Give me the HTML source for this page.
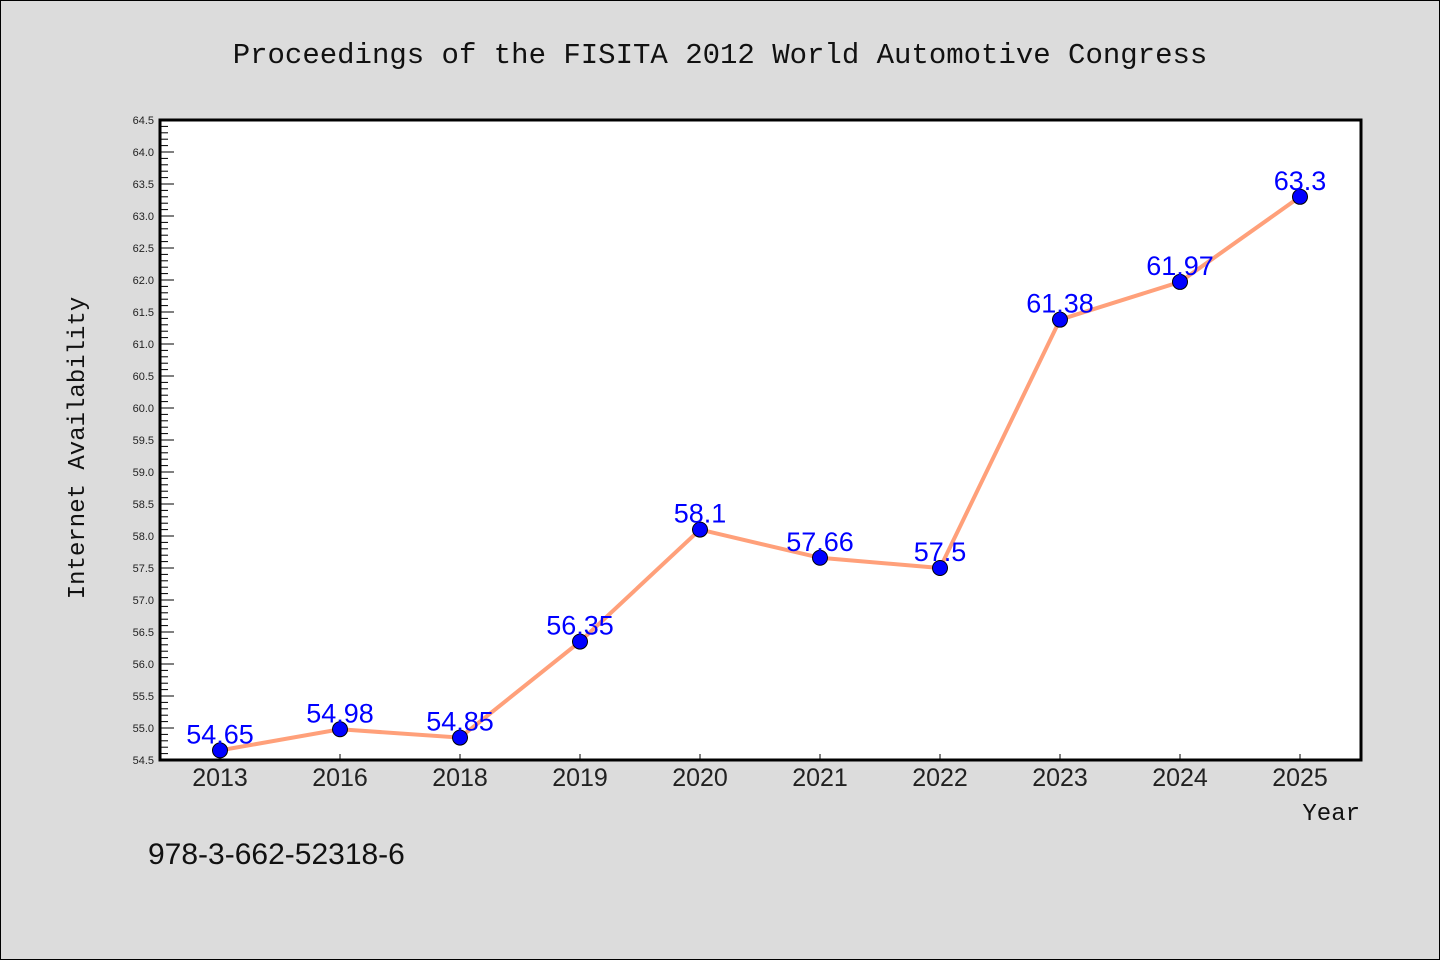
<!DOCTYPE html>
<html><head><meta charset="utf-8"><style>
html,body{margin:0;padding:0;background:#dcdcdc;}
svg{display:block;font-family:"Liberation Mono","DejaVu Sans Mono",monospace;}
</style></head><body>
<svg width="1440" height="960" viewBox="0 0 1440 960" xmlns="http://www.w3.org/2000/svg">
<rect x="0.5" y="0.5" width="1439" height="959" fill="#dcdcdc" stroke="#000" stroke-width="1"/>
<text x="720" y="63" font-size="29" text-anchor="middle" fill="#111">Proceedings of the FISITA 2012 World Automotive Congress</text>
<rect x="160" y="120" width="1201" height="640" fill="#fff"/>
<g id="yaxis"></g>
<g id="xaxis"></g>
<g id="series"></g>
<rect x="160" y="120" width="1201" height="640" fill="none" stroke="#000" stroke-width="3"/>
<text transform="translate(84,448) rotate(-90)" font-size="24" text-anchor="middle" fill="#111">Internet Availability</text>
<text x="1360" y="820" font-size="24" text-anchor="end" fill="#111">Year</text>
<text x="148" y="864" font-size="30" fill="#111" font-family="Liberation Sans, sans-serif">978-3-662-52318-6</text>
</svg>
<script>
const categories=["2013","2016","2018","2019","2020","2021","2022","2023","2024","2025"];
const values=[54.65,54.98,54.85,56.35,58.1,57.66,57.5,61.38,61.97,63.3];
const labels=["54.65","54.98","54.85","56.35","58.1","57.66","57.5","61.38","61.97","63.3"];
const yMin=54.5,yMax=64.5;
const NS="http://www.w3.org/2000/svg";
const L=160,R=1361,T=120,B=760;
const y=v=>B-(v-yMin)/(yMax-yMin)*(B-T);
const x=i=>220+i*120;
function mk(t,a,p){const e=document.createElementNS(NS,t);for(const k in a)e.setAttribute(k,a[k]);p.appendChild(e);return e;}
const ya=document.getElementById('yaxis');
for(let k=0;k<=100;k++){const v=yMin+k*0.1;const major=k%5===0;
 const t=mk('line',{x1:L,x2:L+(major?14:8),y1:y(v),y2:y(v),stroke:'#000','stroke-width':1},ya);
 
 if(major){const tx=mk('text',{x:L-6,y:y(v)+4,'font-size':11,'text-anchor':'end',fill:'#222','font-family':'Liberation Sans, sans-serif'},ya);
 tx.textContent=v.toFixed(1);}}
const xa=document.getElementById('xaxis');
categories.forEach((c,i)=>{const t=mk('line',{x1:x(i),x2:x(i),y1:B,y2:B-6,stroke:'#000','stroke-width':1},xa);
 
 const tx=mk('text',{x:x(i),y:B+26,'font-size':25,'text-anchor':'middle',fill:'#222','font-family':'Liberation Sans, sans-serif'},xa);
 tx.textContent=c;});
const s=document.getElementById('series');
const pl=mk('polyline',{points:values.map((v,i)=>x(i)+','+y(v)).join(' '),fill:'none',stroke:'#ffa07a','stroke-width':4},s);

values.forEach((v,i)=>{const c=mk('circle',{cx:x(i),cy:y(v),r:7.5,fill:'#0000ff',stroke:'#000','stroke-width':1},s);
 
 const t=mk('text',{x:x(i),y:y(v)-7,'font-size':27,'text-anchor':'middle',fill:'#0000ff','font-family':'Liberation Sans, sans-serif'},s);
 t.textContent=labels[i];});
</script>
</body></html>
